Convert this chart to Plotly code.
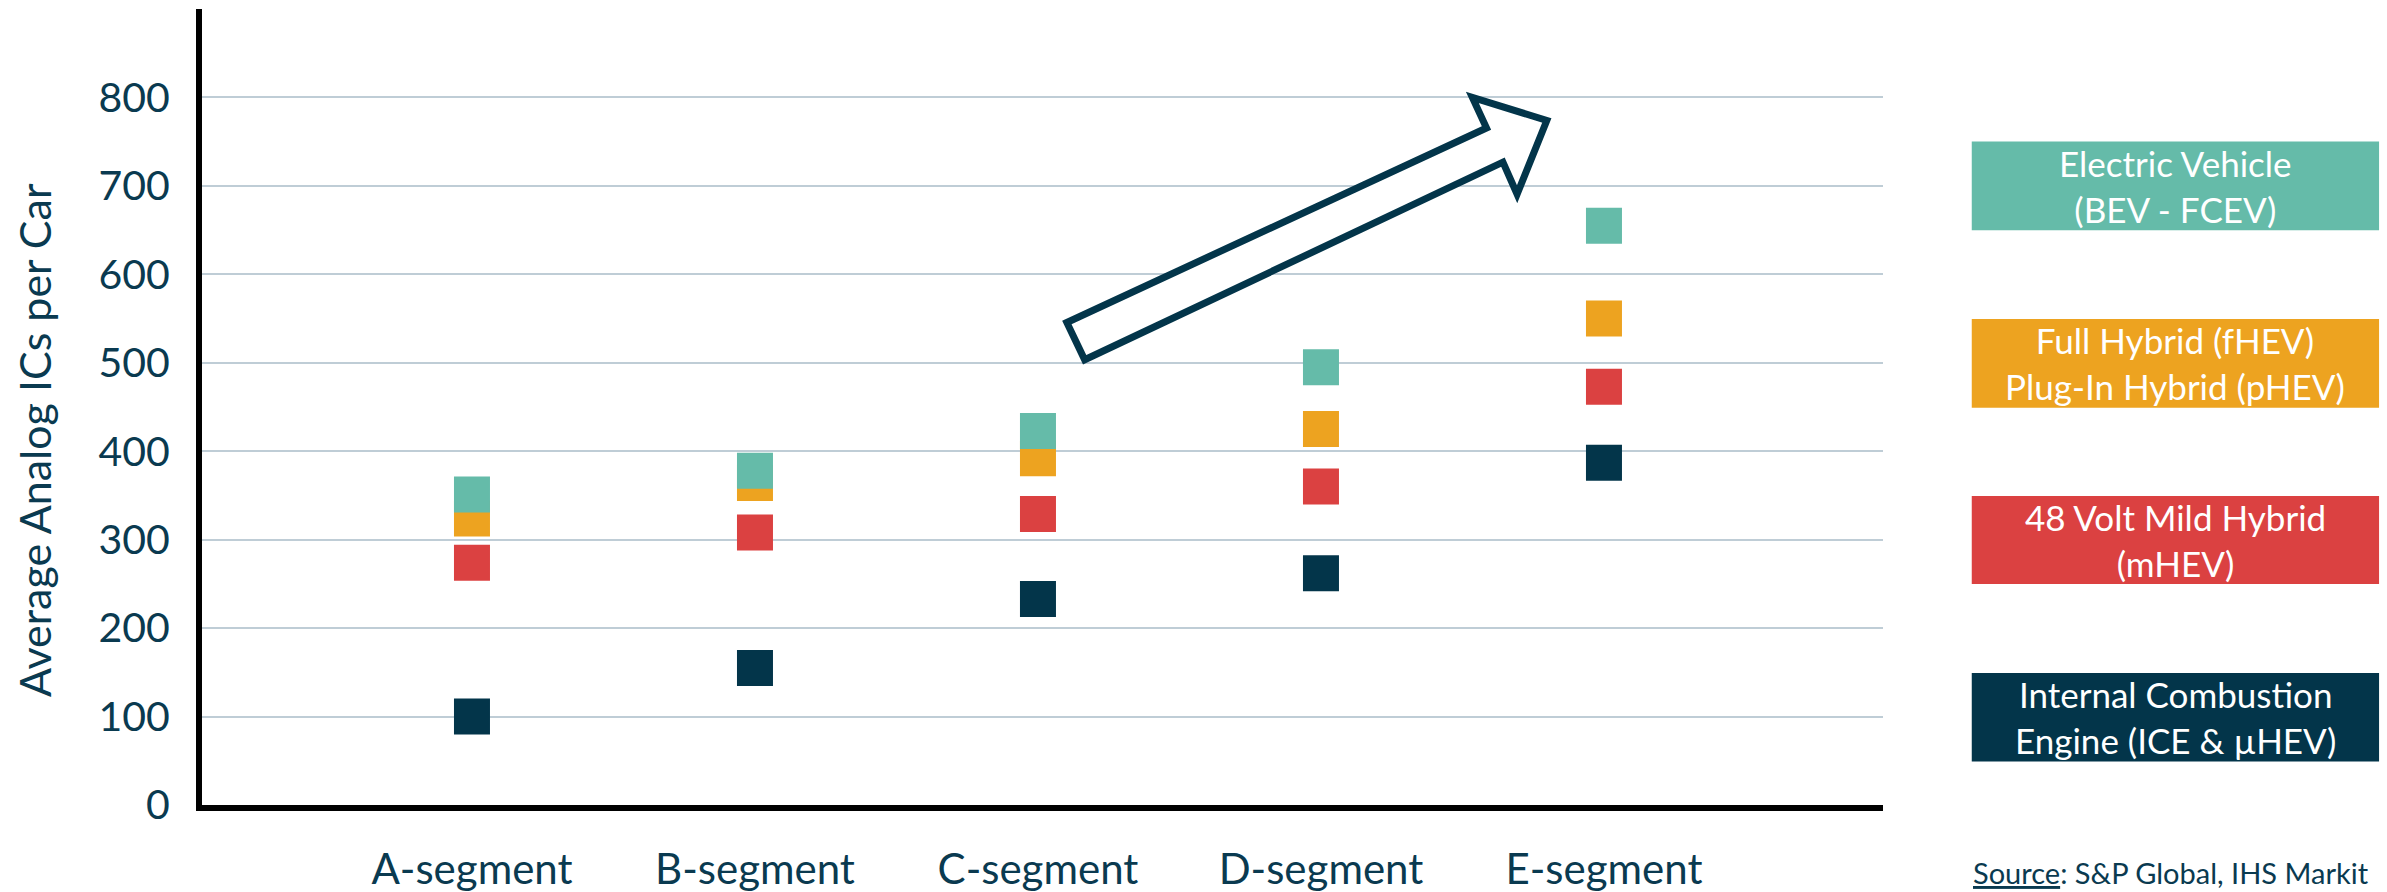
import plotly.graph_objects as go

# ---- data ----
segments = ["A-segment", "B-segment", "C-segment", "D-segment", "E-segment"]
ice = [100, 155, 233, 262, 387]
mhev = [274, 308, 329, 360, 473]
hybrid = [324, 364, 392, 425, 550]
ev = [351, 378, 423, 495, 655]
y_ticks = [0, 100, 200, 300, 400, 500, 600, 700, 800]

legend_labels = [
    "Electric Vehicle<br>(BEV - FCEV)",
    "Full Hybrid (fHEV)<br>Plug-In Hybrid (pHEV)",
    "48 Volt Mild Hybrid<br>(mHEV)",
    "Internal Combustion<br>Engine (ICE &amp; µHEV)",
]

NAVY = "#03354A"
RED = "#DB4141"
ORANGE = "#EDA320"
TEAL = "#65BBA9"
TEXT = "#0A3A50"
FONT = "Lato"

xs = list(range(1, len(segments) + 1))

fig = go.Figure()
for vals, col, name in [(ice, NAVY, "ICE"), (mhev, RED, "mHEV"),
                        (hybrid, ORANGE, "fHEV/pHEV"), (ev, TEAL, "EV")]:
    fig.add_trace(go.Scatter(
        x=xs, y=vals, mode="markers", name=name,
        marker=dict(symbol="square", size=36, color=col, line=dict(width=0)),
        hoverinfo="skip",
    ))

# trend arrow (block arrow outline)
arrow_pts = [(3.102, 545.6), (4.585, 765.5), (4.535, 800), (4.798, 774),
             (4.693, 690.6), (4.643, 726.8), (3.165, 503.4)]
path = "M " + " L ".join(f"{x},{y}" for x, y in arrow_pts) + " Z"
fig.add_shape(type="path", path=path, xref="x", yref="y",
              line=dict(color=NAVY, width=7), fillcolor="white", layer="above")

# legend boxes
box_cols = [TEAL, ORANGE, RED, NAVY]
box_y = [(0.7219, 0.8335), (0.4992, 0.6106), (0.2776, 0.3882), (0.0545, 0.1658)]
bx0, bx1 = 1.0528, 1.2951
for (y0, y1), col, lab in zip(box_y, box_cols, legend_labels):
    fig.add_shape(type="rect", xref="paper", yref="paper",
                  x0=bx0, x1=bx1, y0=y0, y1=y1,
                  fillcolor=col, line=dict(width=0))
    fig.add_annotation(xref="paper", yref="paper", x=(bx0 + bx1) / 2,
                       y=(y0 + y1) / 2, text=lab, showarrow=False,
                       xanchor="center", yanchor="middle", align="center",
                       font=dict(family=FONT, size=35, color="white"))

# y-axis title
fig.add_annotation(xref="paper", yref="paper", x=-0.1, y=0.4585,
                   text="Average Analog ICs per Car", textangle=-90,
                   showarrow=False, xanchor="center", yanchor="middle",
                   font=dict(family=FONT, size=43, color=TEXT))

# source
fig.add_annotation(xref="paper", yref="paper", x=1.2903, y=-0.0845,
                   text="<u>Source</u>: S&amp;P Global, IHS Markit",
                   showarrow=False, xanchor="right", yanchor="middle",
                   font=dict(family=FONT, size=29, color=TEXT))

fig.update_layout(
    width=2387, height=892,
    margin=dict(l=202, r=504, t=9, b=87),
    paper_bgcolor="white", plot_bgcolor="white",
    showlegend=False, hovermode=False,
    font=dict(family=FONT, color=TEXT),
)
fig.update_xaxes(
    range=[0.046, 5.986], tickvals=xs, ticktext=segments,
    showgrid=False, zeroline=False, automargin=False,
    showline=True, linecolor="black", linewidth=6,
    ticks="", ticklabelstandoff=23,
    tickfont=dict(family=FONT, size=42, color=TEXT),
)
fig.update_yaxes(
    range=[0, 900], tickvals=y_ticks, automargin=False,
    showgrid=True, gridcolor="#BFCDD6", gridwidth=2,
    zeroline=False,
    showline=True, linecolor="black", linewidth=6,
    ticks="", ticklabelstandoff=18,
    tickfont=dict(family=FONT, size=41, color=TEXT),
)

# let the figure fill the window exactly (no default page margin / scrollbars)
fig.write_html(
    "out.html",
    config={"displayModeBar": False},
    post_script="document.body.style.margin='0';"
                "document.body.style.overflow='hidden';",
)
